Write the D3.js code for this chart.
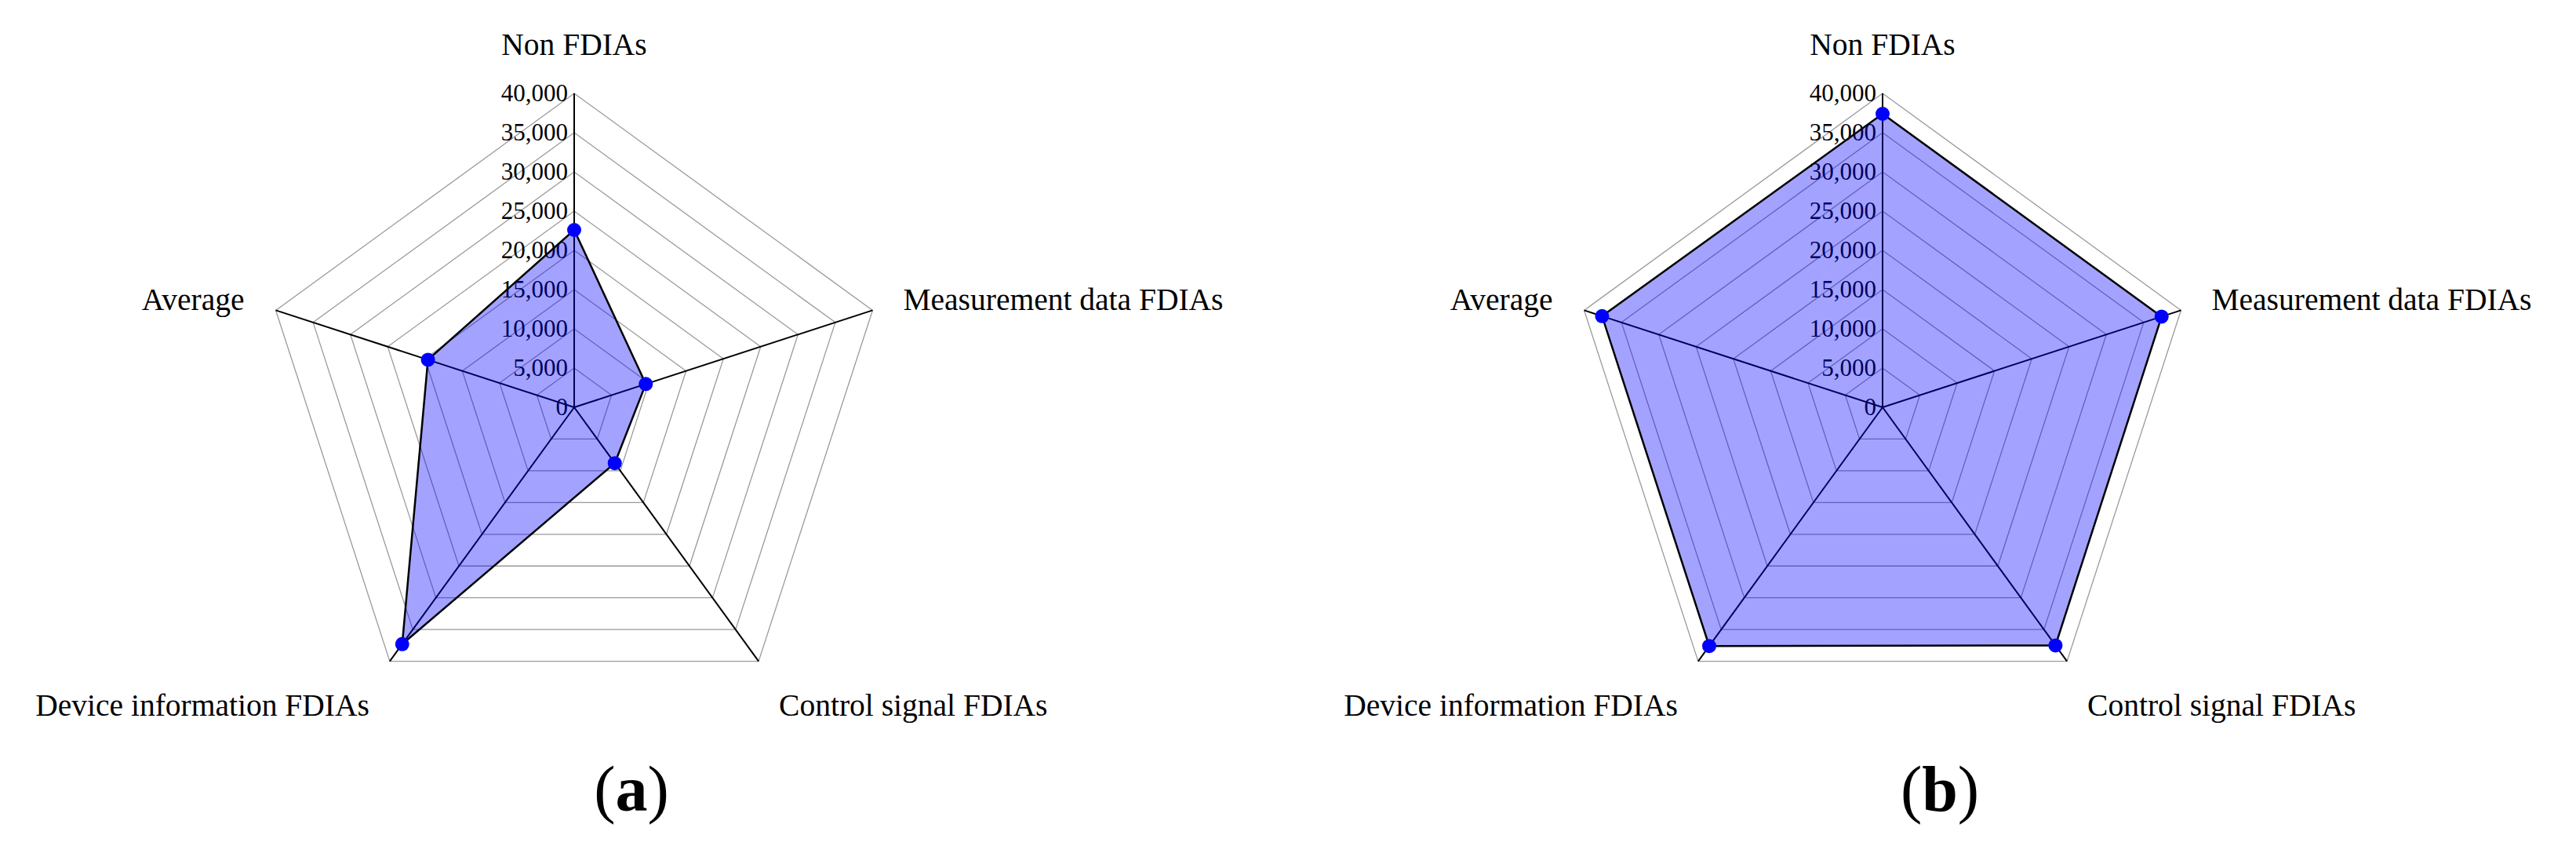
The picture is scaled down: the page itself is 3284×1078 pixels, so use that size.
<!DOCTYPE html>
<html>
<head>
<meta charset="utf-8">
<script src="https://cdn.jsdelivr.net/npm/d3@7"></script>
<style>
  body { margin: 0; background: #fff; }
  svg { display: block; font-family: 'Liberation Serif', 'Times New Roman', serif; }
</style>
</head>
<body>
<div id="chart"></div>
<script>
// axis names, clockwise from the top
var axisLabels = ['Non FDIAs', 'Measurement data FDIAs', 'Control signal FDIAs', 'Device information FDIAs', 'Average'];
// panel (a) and panel (b) values
var valuesA = [22600, 9600, 8800, 37300, 19600];
var valuesB = [37400, 37400, 37500, 37600, 37600];
var tickValues = [0, 5000, 10000, 15000, 20000, 25000, 30000, 35000, 40000];
var panelLetters = ['a', 'b'];

var width = 3284;
var height = 1078;
var radius = 400;
var centers = [[732, 519], [2400, 519]];

var r = d3.scaleLinear()
        .domain([0, 40000])
        .range([0, radius]);

var angle = d3.scaleLinear()
        .domain([0, axisLabels.length])
        .range([0, 2 * Math.PI]);

var fmt = d3.format(',');

var svg = d3.select('#chart')
            .append('svg')
            .attr('width', width)
            .attr('height', height)
            .style('background', '#fff');

function ring(value) {
  return axisLabels.map(function (d, i) {
    return d3.pointRadial(angle(i), r(value));
  });
}

var radial = d3.lineRadial()
              .angle(function (d, i) { return angle(i); })
              .radius(function (d) { return r(d); })
              .curve(d3.curveLinearClosed);

function drawPanel (values, center, letter) {
  var g = svg.append('g')
            .attr('transform', 'translate(' + center[0] + ',' + center[1] + ')');

  // grid pentagons
  g.selectAll('.grid')
    .data(tickValues.slice(1))
    .enter()
    .append('polygon')
      .attr('class', 'grid')
      .attr('points', function (d) { return ring(d).join(' '); })
      .attr('fill', 'none')
      .attr('stroke', '#9a9a9a')
      .attr('stroke-width', 1.3);

  // spokes
  g.selectAll('.spoke')
    .data(axisLabels)
    .enter()
    .append('line')
      .attr('class', 'spoke')
      .attr('x1', 0)
      .attr('y1', 0)
      .attr('x2', function (d, i) { return d3.pointRadial(angle(i), r(40000))[0]; })
      .attr('y2', function (d, i) { return d3.pointRadial(angle(i), r(40000))[1]; })
      .attr('stroke', '#000')
      .attr('stroke-width', 2);

  // tick labels along the top spoke
  g.selectAll('.tick')
    .data(tickValues)
    .enter()
    .append('text')
      .attr('class', 'tick')
      .attr('x', -8)
      .attr('y', function (d) { return -r(d) + 10; })
      .attr('text-anchor', 'end')
      .attr('font-size', 31)
      .attr('fill', '#000')
      .text(function (d) { return fmt(d); });

  // data area, drawn over the grid
  g.append('path')
    .datum(values)
    .attr('d', radial)
    .attr('fill', 'rgba(0, 0, 255, 0.36)')
    .attr('stroke', '#000')
    .attr('stroke-width', 2.5)
    .attr('stroke-linejoin', 'miter');

  g.selectAll('circle')
    .data(values)
    .enter()
    .append('circle')
      .attr('cx', function (d, i) { return d3.pointRadial(angle(i), r(d))[0]; })
      .attr('cy', function (d, i) { return d3.pointRadial(angle(i), r(d))[1]; })
      .attr('r', 9)
      .attr('fill', '#0000ff');

  // axis names
  g.selectAll('.label')
    .data(axisLabels)
    .enter()
    .append('text')
      .attr('class', 'label')
      .attr('font-size', 39.5)
      .attr('fill', '#000')
      .attr('text-anchor', function (d, i) {
        if (i === 0) return 'middle';
        return (i === 1 || i === 2) ? 'start' : 'end';
      })
      .attr('x', function (d, i) {
        var p = d3.pointRadial(angle(i), r(40000));
        if (i === 0) return 0;
        if (i === 1) return p[0] + 39;
        if (i === 4) return p[0] - 40;
        return i === 2 ? p[0] + 26 : p[0] - 26;
      })
      .attr('y', function (d, i) {
        var p = d3.pointRadial(angle(i), r(40000));
        if (i === 0) return p[1] - 49;
        if (i === 1 || i === 4) return p[1];
        return p[1] + 69;
      })
      .text(function (d) { return d; });

  // panel letter
  var cap = g.append('text')
            .attr('x', 73)
            .attr('y', 514)
            .attr('text-anchor', 'middle')
            .attr('font-size', 82)
            .attr('fill', '#000');
  cap.append('tspan').text('(');
  cap.append('tspan').attr('font-weight', 'bold').text(letter);
  cap.append('tspan').text(')');
}

drawPanel(valuesA, centers[0], panelLetters[0]);
drawPanel(valuesB, centers[1], panelLetters[1]);
</script>
</body>
</html>
